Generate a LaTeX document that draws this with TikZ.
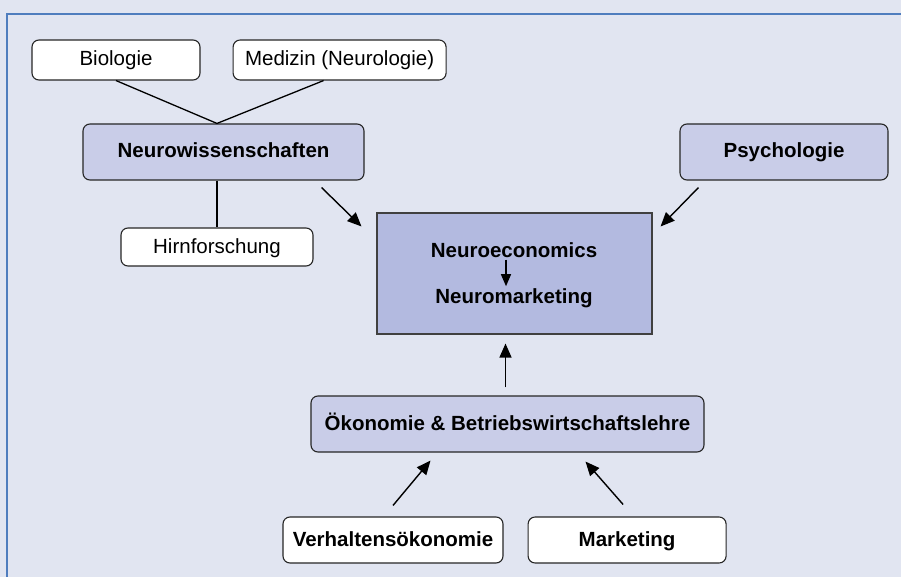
\documentclass[tikz,border=0pt]{standalone}
\usepackage{fontspec}
\setmainfont{Liberation Sans}
\usetikzlibrary{arrows.meta,positioning,calc}
\definecolor{bgcol}{RGB}{225,229,241}
\definecolor{framecol}{RGB}{79,125,190}
\definecolor{midcol}{RGB}{201,205,232}
\definecolor{corecol}{RGB}{179,186,224}
\tikzset{
  blk/.style={draw=black!85,rectangle,rounded corners=7pt,line width=1.1pt,align=center,inner sep=2pt,
    font=\fontsize{20.5}{24}\selectfont,text height=15pt,text depth=3pt},
  leafblk/.style={blk,fill=white},
  midblk/.style={blk,fill=midcol,font=\fontsize{20.5}{24}\selectfont\bfseries},
  coreblk/.style={blk,rounded corners=0pt,fill=corecol,draw=black!75},
  txt/.style={font=\fontsize{20.5}{24}\selectfont\bfseries,inner sep=2pt},
  arr/.style={-{Triangle[length=14pt,width=12pt]},line width=1.4pt},
  lnk/.style={line width=1.3pt}
}

\begin{document}
\begin{tikzpicture}[x=1pt,y=-1pt]
  \useasboundingbox (0,0) rectangle (901,577);
  \fill[bgcol] (0,0) rectangle (901,577);
  \draw[framecol,line width=2pt] (7,577) -- (7,14) -- (901,14);

  % Neuro side
  \node[leafblk, minimum width=168pt, minimum height=40pt] (bio) at (116,60) {Biologie};
  \node[leafblk, minimum width=213pt, minimum height=40pt, right=32pt of bio] (med) {Medizin (Neurologie)};
  \node[midblk, minimum width=281pt, minimum height=56pt] (neuro) at (223.5,152) {Neurowissenschaften};
  \node[leafblk, minimum width=192pt, minimum height=38pt] (hirn) at (217,247) {Hirnforschung};
  \node[midblk, minimum width=208pt, minimum height=56pt] (psy) at (784,152) {Psychologie};

  % centre
  \node[coreblk, minimum width=275pt, minimum height=121pt] (core) at (514.5,273.5) {};
  \node[txt] (neco) at (514,250) {Neuroeconomics};
  \node[txt] (nmkt) at (514,298) {Neuromarketing};

  % economics side
  \node[midblk, minimum width=393pt, minimum height=56pt] (oek) at (507.5,424) {Ökonomie \& Betriebswirtschaftslehre};
  \node[leafblk, minimum width=220pt, minimum height=46pt, font=\fontsize{20.5}{24}\selectfont\bfseries] (verh) at (393,540) {Verhaltensökonomie};
  \node[leafblk, minimum width=198pt, minimum height=46pt, font=\fontsize{20.5}{24}\selectfont\bfseries, right=24pt of verh] (mkt) {Marketing};

  \draw[lnk] (bio.south) -- (hirn |- neuro.north) -- ([xshift=-16pt]med.south);
  \draw[lnk] (hirn |- neuro.south) -- (hirn.north);
  \draw[arr] ($(neuro.south east)+(-43,7)$) -- ($(core.north west)+(-15,14)$);
  \draw[arr] ($(psy.south west)+(19,7)$) -- ($(core.north east)+(8,14)$);
  \draw[arr,-{Triangle[length=12pt,width=10pt]}] ([xshift=-8pt]neco.south) -- ([xshift=-8pt]nmkt.north);
  \draw[arr] ($(oek.north)+(-2,-8)$) -- ($(oek.north |- core.south)+(-2,9)$);
  \draw[arr] ($(verh.north)+(0,-11)$) -- ($(oek.south)+(-77,8)$);
  \draw[arr] ($(mkt.north)+(-4,-12)$) -- ($(oek.south)+(78,9)$);
\end{tikzpicture}
\end{document}
